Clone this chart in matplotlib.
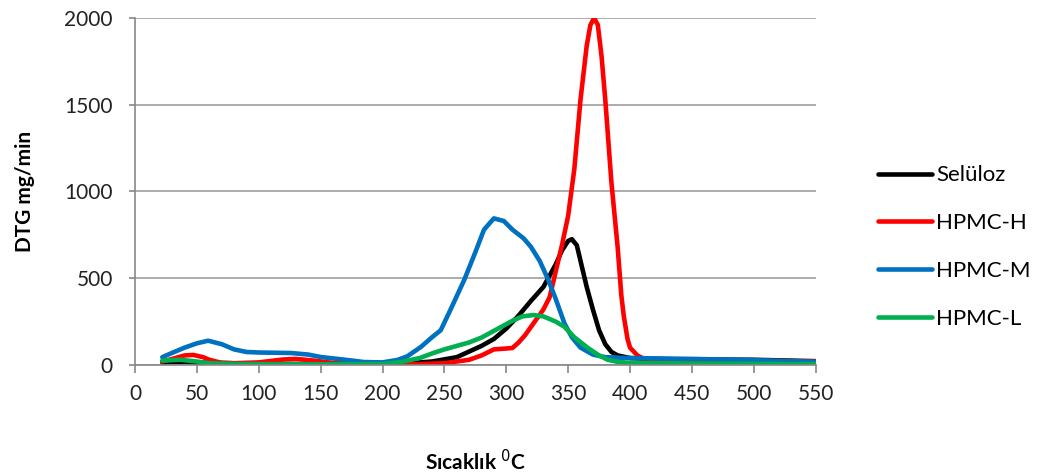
import matplotlib.pyplot as plt

plt.rcParams['font.family'] = ['Lato', 'DejaVu Sans']

# Selüloz
t_sel = [22, 30, 40, 50, 60, 70, 80, 90, 100, 120, 150, 180, 200, 220, 240, 260, 280, 290,
         300, 310, 320, 330, 340, 345, 350, 353, 357, 360, 365, 370, 375, 380, 385, 390, 400,
         420, 450, 500, 550]
v_sel = [15, 18, 18, 15, 15, 12, 10, 10, 8, 6, 5, 4, 5, 10, 20, 45, 110, 150,
         210, 285, 370, 450, 580, 660, 715, 725, 690, 600, 450, 320, 200, 120, 75, 55, 40,
         34, 32, 30, 22]

# HPMC-H
t_h = [22, 30, 40, 47, 55, 60, 70, 80, 100, 120, 130, 145, 160, 180, 200, 230, 250, 270,
       280, 290, 300, 305, 310, 315, 320, 325, 330, 335, 340, 345, 350, 355, 360, 365,
       368, 371, 374, 377, 380, 385, 390, 393, 395, 398, 400, 406, 410, 420, 450, 500, 550]
v_h = [20, 35, 55, 58, 45, 30, 12, 10, 15, 32, 35, 25, 12, 6, 5, 5, 10, 30,
       55, 90, 95, 98, 130, 170, 220, 270, 320, 390, 540, 690, 860, 1130, 1530, 1840,
       1960, 2000, 1960, 1780, 1530, 1050, 680, 400, 280, 150, 100, 55, 40, 32, 28, 25, 20]

# HPMC-M
t_m = [22, 30, 40, 50, 59, 70, 80, 90, 100, 126, 140, 150, 170, 185, 200, 212, 220, 231,
       240, 247, 255, 266, 275, 282, 290, 298, 305, 314, 320, 327, 334, 340, 347, 353,
       360, 370, 380, 400, 450, 500, 550]
v_m = [45, 70, 100, 125, 140, 120, 90, 75, 72, 69, 60, 46, 30, 17, 15, 29, 50, 104,
       160, 200, 320, 490, 650, 780, 845, 830, 780, 730, 680, 600, 490, 380, 240, 160,
       100, 60, 45, 40, 35, 28, 18]

# HPMC-L
t_l = [22, 30, 37, 50, 60, 80, 100, 150, 200, 215, 230, 241, 250, 260, 270, 280, 296, 305,
       313, 322, 330, 340, 347, 355, 366, 375, 382, 390, 400, 450, 550]
v_l = [25, 28, 30, 20, 10, 6, 5, 4, 5, 17, 40, 69, 90, 110, 130, 158, 220, 255,
       280, 288, 280, 250, 220, 160, 98, 55, 30, 18, 12, 8, 5]

series = [
    ('Selüloz', t_sel, v_sel, '#000000'),
    ('HPMC-H', t_h, v_h, '#FF0000'),
    ('HPMC-M', t_m, v_m, '#0070C0'),
    ('HPMC-L', t_l, v_l, '#00B050'),
]

fig = plt.figure(figsize=(10.39, 4.75), dpi=100)
ax = fig.add_axes([0.130, 0.2316, 0.655, 0.7305])

for name, t, v, c in series:
    ax.plot(t, v, color=c, lw=3.3, label=name, solid_capstyle='round', solid_joinstyle='round')

ax.set_xlim(0, 550)
ax.set_ylim(0, 2000)
ax.set_xticks(range(0, 551, 50))
ax.set_yticks(range(0, 2001, 500))
ax.grid(axis='y', color='#a6a6a6', lw=1.3)
ax.set_axisbelow(True)
for s in ['top', 'right']:
    ax.spines[s].set_visible(False)
for s in ['left', 'bottom']:
    ax.spines[s].set_color('#888888')
    ax.spines[s].set_linewidth(1.2)
ax.tick_params(axis='both', colors='#888888', labelcolor='#222222', labelsize=15,
               direction='out', width=1.2)
ax.tick_params(axis='x', length=6, pad=8)
ax.tick_params(axis='y', length=4, pad=12)

ax.set_xlabel('Sıcaklık $^{0}$C', fontsize=15, fontweight='bold', labelpad=32)
ax.set_ylabel('DTG mg/min', fontsize=15, fontweight='bold', labelpad=21)

fig.legend(loc='center left', bbox_to_anchor=(0.826, 0.48), frameon=False, fontsize=16,
           handlelength=2.4, handletextpad=0.2, labelspacing=1.25)

fig.savefig('out.png', dpi=100)
